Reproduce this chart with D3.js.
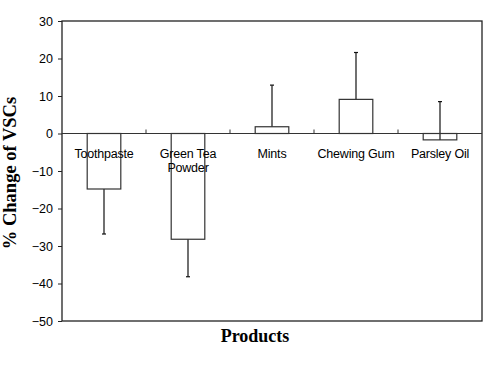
<!DOCTYPE html>
<html>
<head>
<meta charset="utf-8">
<script src="https://cdn.jsdelivr.net/npm/d3@7"></script>
<style>
  body { margin: 0; background: #fff; }
  svg text { fill: #000; }
</style>
</head>
<body>
<svg id="chart" width="490" height="365"></svg>
<script>
var products = ["Toothpaste", "Green Tea|Powder", "Mints", "Chewing Gum", "Parsley Oil"]
var means = [-14.8, -28.2, 1.8, 9.1, -1.7]
// signed error length, drawn from the bar end
var errs = [-12.0, -10.0, 11.1, 12.5, 10.2]
var yTicks = [30, 20, 10, 0, -10, -20, -30, -40, -50]

var svg = d3.select('#chart')
var margin = { top: 21, right: 8, bottom: 44, left: 62 },
    width = 482 - margin.left,
    height = 321 - margin.top

var g = svg.append("g")
    .attr("transform", "translate(" + margin.left + "," + margin.top + ")")

var x = d3.scaleBand()
    .domain(products)
    .range([0, width])

var y = d3.scaleLinear()
    .domain([-50, 30])
    .range([height, 0])

// frame
g.append("rect")
    .attr("x", 0).attr("y", 0)
    .attr("width", width).attr("height", height)
    .attr("fill", "none")
    .attr("stroke", "#222")
    .attr("stroke-width", 1.3)

var yAxis = d3.axisLeft(y)
    .tickValues(yTicks)
    .tickSize(4)
    .tickFormat(function (d) { return d < 0 ? "\u2212" + Math.abs(d) : d })

var ya = g.append("g").call(yAxis)
ya.select(".domain").remove()
ya.selectAll("line").attr("stroke", "#222")
ya.selectAll("text")
    .attr("x", -9)
    .style("font-family", "Liberation Sans, Arial, sans-serif")
    .style("font-size", "12.5px")

// zero line with category ticks
g.append("line")
    .attr("x1", 0).attr("x2", width)
    .attr("y1", y(0)).attr("y2", y(0))
    .attr("stroke", "#333")
    .attr("stroke-width", 1.2)

g.selectAll(".ctick")
    .data(products.slice(1))
    .enter()
    .append("line")
    .attr("x1", function (d) { return x(d) })
    .attr("x2", function (d) { return x(d) })
    .attr("y1", y(0))
    .attr("y2", y(0) - 4)
    .attr("stroke", "#333")

var bw = x.bandwidth() * 0.4

// error bars
g.selectAll(".err")
    .data(products)
    .enter()
    .append("line")
    .attr("x1", function (d) { return x(d) + x.bandwidth() / 2 })
    .attr("x2", function (d) { return x(d) + x.bandwidth() / 2 })
    .attr("y1", function (d, i) { return y(means[i]) })
    .attr("y2", function (d, i) { return y(means[i] + errs[i]) })
    .attr("stroke", "#111")
    .attr("stroke-width", 1.2)

g.selectAll(".cap")
    .data(products)
    .enter()
    .append("line")
    .attr("x1", function (d) { return x(d) + x.bandwidth() / 2 - 2 })
    .attr("x2", function (d) { return x(d) + x.bandwidth() / 2 + 2 })
    .attr("y1", function (d, i) { return y(means[i] + errs[i]) })
    .attr("y2", function (d, i) { return y(means[i] + errs[i]) })
    .attr("stroke", "#111")
    .attr("stroke-width", 1.2)

// bars
g.selectAll(".bar")
    .data(products)
    .enter()
    .append("rect")
    .attr("x", function (d) { return x(d) + (x.bandwidth() - bw) / 2 })
    .attr("y", function (d, i) { return y(Math.max(0, means[i])) })
    .attr("width", bw)
    .attr("height", function (d, i) { return Math.abs(y(means[i]) - y(0)) })
    .attr("fill", "none")
    .attr("stroke", "#333")
    .attr("stroke-width", 1.2)

// category labels
var labels = g.selectAll(".clabel")
    .data(products)
    .enter()
    .append("text")
    .attr("text-anchor", "middle")
    .attr("x", function (d) { return x(d) + x.bandwidth() / 2 })
    .attr("y", y(0) + 24)
    .style("font-family", "Liberation Sans, Arial, sans-serif")
    .style("font-size", "12.5px")
    .style("letter-spacing", "-0.2px")

labels.selectAll("tspan")
    .data(function (d) { return d.split("|") })
    .enter()
    .append("tspan")
    .attr("x", function () { var p = this.parentNode; return p.getAttribute("x") })
    .attr("dy", function (d, i) { return i === 0 ? 0 : 14 })
    .text(function (d) { return d })

svg.append("text")
    .attr("x", 255)
    .attr("y", 342)
    .attr("text-anchor", "middle")
    .style("font-family", "Liberation Serif, Times New Roman, serif")
    .style("font-weight", "bold")
    .style("font-size", "18px")
    .text("Products")

svg.append("text")
    .attr("transform", "translate(16,173) rotate(-90)")
    .attr("text-anchor", "middle")
    .style("font-family", "Liberation Serif, Times New Roman, serif")
    .style("font-weight", "bold")
    .style("font-size", "18.5px")
    .text("% Change of VSCs")
</script>
</body>
</html>
